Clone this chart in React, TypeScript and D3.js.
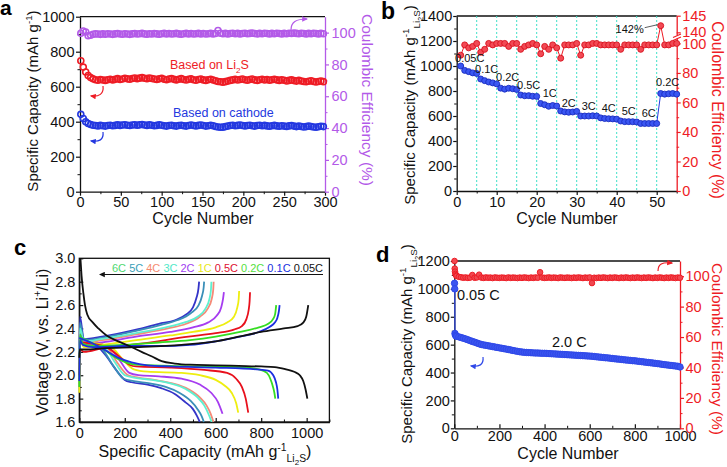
import React, { useEffect, useRef } from "react";
import * as d3 from "d3";

const FONT = "'Liberation Sans', Arial, Helvetica, sans-serif";

// ---------------- Panel a data (every 3rd cycle starting at 1) ----------------
const aCycleStep = 3;
const aLi2S = [748, 712, 684, 664, 652, 645, 640, 637, 641, 638,
  636, 640, 643, 639, 642, 646, 641, 644, 648, 645,
  643, 647, 650, 646, 649, 652, 648, 646, 650, 647,
  644, 641, 645, 648, 643, 640, 644, 647, 642, 639,
  643, 646, 641, 638, 642, 645, 640, 637, 641, 644,
  639, 636, 640, 643, 638, 634, 630, 628, 626, 629,
  632, 636, 639, 642, 638, 641, 644, 640, 637, 641,
  644, 639, 636, 640, 643, 638, 641, 637, 640, 643,
  639, 636, 640, 637, 633, 636, 639, 635, 632, 636,
  633, 630, 628, 631, 634, 630, 627, 630, 633, 629];
const aCathode = [442, 418, 400, 390, 384, 380, 378, 376, 379, 377,
  375, 378, 380, 377, 379, 382, 379, 381, 383, 380,
  378, 381, 383, 380, 382, 384, 381, 379, 382, 380,
  377, 379, 382, 380, 377, 375, 378, 380, 377, 375,
  378, 380, 377, 375, 378, 381, 378, 376, 379, 381,
  378, 375, 377, 380, 377, 373, 370, 368, 369, 372,
  375, 378, 380, 377, 379, 381, 378, 376, 378, 380,
  377, 375, 378, 380, 377, 379, 376, 374, 377, 379,
  376, 374, 377, 375, 373, 376, 378, 375, 372, 375,
  373, 370, 372, 375, 373, 370, 368, 371, 374, 372];
const aCE = [99.6, 101.0, 100.4, 98.0, 98.3, 99.0, 99.2, 99.1, 98.9, 99.2,
  99.0, 99.3, 99.1, 98.9, 99.2, 99.4, 99.1, 99.0, 99.3, 99.1,
  98.9, 99.2, 99.4, 99.1, 99.3, 99.5, 99.2, 99.0, 99.3, 99.1,
  99.4, 99.2, 99.0, 99.3, 99.5, 99.2, 99.4, 99.1, 99.3, 99.5,
  99.2, 99.0, 99.3, 99.5, 99.2, 99.4, 99.1, 99.3, 99.5, 99.2,
  99.4, 99.1, 99.3, 99.5, 99.2, 99.4, 101.3, 99.6, 99.3, 99.5,
  99.2, 99.4, 99.6, 99.3, 99.5, 99.2, 99.4, 99.6, 99.3, 99.5,
  99.7, 99.4, 99.2, 99.5, 99.3, 99.6, 99.4, 99.2, 99.5, 99.3,
  99.6, 99.4, 99.2, 99.5, 99.3, 99.6, 99.4, 99.7, 99.5, 99.3,
  99.6, 99.4, 99.2, 99.5, 99.3, 99.6, 99.4, 99.2, 99.5, 99.3];
const aXTicks = [0, 50, 100, 150, 200, 250, 300];
const aYTicks = [0, 200, 400, 600, 800, 1000];
const aCETicks = [0, 20, 40, 60, 80, 100];

// ---------------- Panel b data (cycles 1..55) ----------------
const bCapacity = [1000, 965, 955, 945, 940, 896, 883, 872, 865, 857,
  823, 815, 822, 818, 812, 768, 762, 763, 758, 757,
  700, 690, 678, 684, 680, 640, 633, 630, 632, 637,
  600, 600, 600, 602, 600, 585, 580, 578, 577, 575,
  560, 555, 555, 554, 552, 540, 540, 540, 540, 540,
  780, 775, 778, 780, 775];
const bCE = [92, 99, 97, 98, 100, 94, 96, 100, 99, 100,
  100, 100, 98, 100, 100, 96, 98, 99, 100, 99,
  93, 98, 96, 99, 97, 90, 99, 99, 99, 100,
  92, 99, 99, 100, 100, 99, 99, 99, 99, 99,
  96, 99, 99, 99, 99, 96, 99, 99, 99, 99,
  142, 99, 99, 100, 100];
const bRateLabels = ["0.05C", "0.1C", "0.2C", "0.5C", "1C", "2C", "3C", "4C", "5C", "6C", "0.2C"];
const bRateStartCycle = [1, 6, 11, 16, 21, 26, 31, 36, 41, 46, 51];
const bRateLabelOffset = [[9, -8], [6, -10], [7, -11], [8, -10], [9, -10], [8, -8], [8, -10], [8, -10], [8, -10], [8, -10], [7, -11]];
const bDivider = [5, 10, 15, 20, 25, 30, 35, 40, 45, 50];
const bXTicks = [0, 10, 20, 30, 40, 50];
const bYTicks = [0, 200, 400, 600, 800, 1000, 1200, 1400];
const bCETicks = [0, 20, 40, 60, 80, 100, 140, 145];

// ---------------- Panel c data: [capacity, voltage] ----------------
const cRates = ["0.05C", "0.1C", "0.2C", "0.5C", "1C", "2C", "3C", "4C", "5C", "6C"];
const cColors = ["#111111", "#1c2fe0", "#35dd22", "#e8101c", "#eeee10", "#a63cf0", "#5ef0d0", "#f58a78", "#3a8fb8", "#3434c8"];
const cLegendColors = ["#111111", "#2030e0", "#55e040", "#dd1030", "#e8e820", "#a040f0", "#50e8c8", "#f58a70", "#3aa0b8", "#50d870"];
const cCharge = [
  [[0, 2.15], [2, 2.22], [30, 2.22], [100, 2.23], [250, 2.24], [450, 2.26], [600, 2.29], [700, 2.33], [800, 2.37], [900, 2.40], [960, 2.42], [985, 2.45], [998, 2.5], [1007, 2.6]],
  [[0, 1.95], [3, 2.3], [15, 2.26], [60, 2.24], [200, 2.25], [350, 2.25], [487, 2.26], [600, 2.29], [707, 2.33], [790, 2.37], [838, 2.415], [860, 2.45], [871, 2.49], [878, 2.55], [881, 2.6]],
  [[0, 1.9], [3, 2.35], [15, 2.27], [60, 2.25], [200, 2.26], [350, 2.28], [487, 2.30], [600, 2.33], [707, 2.37], [790, 2.41], [831, 2.44], [852, 2.48], [861, 2.52], [866, 2.6]],
  [[0, 2.0], [3, 2.22], [20, 2.2], [100, 2.23], [270, 2.27], [480, 2.33], [600, 2.36], [680, 2.39], [715, 2.42], [735, 2.48], [745, 2.56], [749, 2.63], [751, 2.71]],
  [[0, 1.85], [3, 2.3], [20, 2.24], [100, 2.26], [250, 2.3], [400, 2.34], [500, 2.37], [600, 2.41], [650, 2.45], [680, 2.5], [695, 2.58], [701, 2.65], [703, 2.72]],
  [[0, 1.9], [3, 2.35], [20, 2.26], [100, 2.28], [250, 2.33], [400, 2.37], [500, 2.41], [565, 2.45], [605, 2.51], [624, 2.58], [632, 2.65], [636, 2.71]],
  [[0, 2.0], [3, 2.4], [20, 2.29], [100, 2.31], [250, 2.36], [380, 2.41], [460, 2.45], [520, 2.5], [555, 2.57], [572, 2.65], [579, 2.73], [581, 2.8]],
  [[0, 2.0], [3, 2.38], [20, 2.28], [100, 2.3], [250, 2.35], [390, 2.4], [470, 2.44], [530, 2.5], [565, 2.57], [582, 2.65], [589, 2.73], [591, 2.8]],
  [[0, 2.1], [3, 2.45], [20, 2.3], [100, 2.32], [250, 2.38], [360, 2.43], [430, 2.47], [490, 2.53], [525, 2.6], [540, 2.68], [547, 2.75], [549, 2.8]],
  [[0, 2.1], [3, 2.5], [20, 2.31], [100, 2.33], [250, 2.39], [350, 2.44], [421, 2.47], [470, 2.52], [500, 2.58], [515, 2.66], [524, 2.74], [527, 2.8]],
];
const cDischarge = [
  [[5, 3.0], [10, 2.85], [18, 2.7], [25, 2.6], [35, 2.52], [60, 2.45], [84, 2.40], [120, 2.34], [171, 2.29], [220, 2.25], [274, 2.20], [320, 2.16], [362, 2.12], [420, 2.10], [487, 2.09], [600, 2.085], [700, 2.08], [800, 2.075], [860, 2.07], [910, 2.05], [945, 2.03], [970, 2.0], [985, 1.95], [995, 1.88], [1003, 1.8]],
  [[0, 2.32], [50, 2.28], [100, 2.23], [170, 2.15], [230, 2.11], [300, 2.085], [400, 2.075], [600, 2.065], [780, 2.05], [830, 2.04], [853, 2.0], [865, 1.94], [871, 1.88], [875, 1.8]],
  [[0, 2.33], [50, 2.28], [100, 2.23], [170, 2.14], [250, 2.09], [400, 2.08], [700, 2.07], [790, 2.05], [825, 2.02], [840, 1.97], [852, 1.9], [858, 1.85], [862, 1.8]],
  [[0, 2.28], [60, 2.27], [120, 2.24], [170, 2.17], [220, 2.09], [250, 2.075], [400, 2.065], [550, 2.045], [650, 2.02], [690, 1.97], [715, 1.9], [732, 1.8], [743, 1.68]],
  [[0, 2.28], [80, 2.27], [140, 2.24], [190, 2.14], [240, 2.05], [300, 2.03], [450, 2.02], [530, 2.0], [600, 1.96], [640, 1.91], [670, 1.85], [690, 1.76], [699, 1.68]],
  [[0, 2.29], [80, 2.27], [130, 2.24], [180, 2.12], [220, 2.02], [260, 2.0], [350, 1.99], [450, 1.97], [530, 1.92], [580, 1.85], [610, 1.77], [630, 1.67]],
  [[0, 2.3], [80, 2.27], [120, 2.22], [160, 2.1], [200, 2.0], [240, 1.98], [320, 1.96], [400, 1.93], [470, 1.88], [520, 1.81], [550, 1.74], [570, 1.66], [582, 1.6]],
  [[0, 2.3], [80, 2.28], [130, 2.22], [170, 2.1], [215, 2.0], [260, 1.98], [330, 1.96], [410, 1.93], [480, 1.88], [530, 1.81], [560, 1.74], [578, 1.67], [590, 1.6]],
  [[0, 2.32], [70, 2.28], [110, 2.2], [150, 2.08], [195, 1.97], [240, 1.95], [310, 1.93], [380, 1.9], [440, 1.85], [490, 1.78], [520, 1.71], [538, 1.65], [548, 1.6]],
  [[0, 2.32], [30, 2.3], [80, 2.25], [120, 2.16], [160, 2.05], [200, 1.96], [230, 1.94], [300, 1.92], [360, 1.89], [420, 1.84], [466, 1.77], [500, 1.71], [518, 1.65], [530, 1.6]],
];
const cXTicks = [0, 200, 400, 600, 800, 1000];
const cYTicks = [1.6, 1.8, 2.0, 2.2, 2.4, 2.6, 2.8, 3.0];

// ---------------- Panel d data ----------------
const dEarlyCycles = [1, 2, 3, 5, 8];
const dLaterCycleStep = 10;
const dCapacity = [1040, 1000, 680, 668, 662,
  660, 656, 651, 646, 641, 635, 629, 623, 618, 612,
  606, 601, 598, 595, 592, 589, 586, 583, 580, 577,
  574, 571, 568, 565, 562, 558, 555, 552, 549, 547,
  545, 544, 543, 542, 541, 540, 540, 539, 538, 538,
  537, 536, 535, 534, 533, 532, 531, 530, 529, 528,
  527, 526, 525, 524, 523, 522, 521, 520, 519, 518,
  517, 515, 513, 511, 510, 508, 506, 505, 503, 501,
  499, 497, 496, 494, 492, 490, 489, 487, 485, 484,
  482, 480, 478, 476, 474, 472, 470, 468, 466, 464,
  462, 459, 457, 455, 453, 451, 449, 447, 445, 440];
const dCE = [110, 105, 103, 101.5, 100.6,
  100.2, 99.6, 99.3, 99.0, 99.2, 98.9, 99.1, 100.8, 99.0, 99.2,
  101.0, 99.1, 98.9, 99.2, 99.0, 99.1, 98.8, 99.2, 99.0, 98.9,
  99.1, 99.0, 98.8, 99.2, 98.9, 99.1, 99.0, 98.8, 99.1, 98.9,
  99.2, 99.0, 98.8, 99.1, 98.9, 99.2, 99.0, 102.6, 99.1, 98.9,
  99.0, 99.2, 98.9, 99.1, 99.0, 98.8, 99.2, 99.0, 98.9, 99.1,
  99.0, 98.8, 99.1, 98.9, 99.2, 99.0, 98.8, 99.1, 98.9, 99.2,
  95.5, 99.0, 98.8, 99.1, 98.9, 99.2, 99.0, 98.8, 99.1, 98.9,
  99.2, 99.0, 98.8, 99.1, 98.9, 99.2, 99.0, 98.8, 99.1, 98.9,
  99.2, 99.0, 98.8, 99.1, 98.9, 99.2, 99.0, 98.8, 99.1, 98.9,
  99.2, 99.0, 98.8, 99.1, 98.9, 99.2, 99.0, 98.8, 99.1, 99.0];
const dXTicks = [0, 200, 400, 600, 800, 1000];
const dYTicks = [0, 200, 400, 600, 800, 1000, 1200];
const dCETicks = [0, 20, 40, 60, 80, 100];

// colours
const RED = "#ee1c25";
const BLUE = "#2438e0";
const PURPLE = "#b35ae8";

type Part = [string, "n" | "sup" | "sub" | "subsub"];
const fmtInt = d3.format("d");

export default function App() {
  const ref = useRef<SVGSVGElement>(null);

  useEffect(() => {
    const svg = d3.select(ref.current);
    svg.selectAll("*").remove();
    const defs = svg.append("defs");
    const marker = (id: string, color: string) => {
      defs.append("marker").attr("id", id).attr("viewBox", "0 0 10 10")
        .attr("refX", 8).attr("refY", 5).attr("markerWidth", 5).attr("markerHeight", 5)
        .attr("orient", "auto")
        .append("path").attr("d", "M0,0.5 L10,5 L0,9.5 Z").attr("fill", color);
    };
    marker("arR", RED); marker("arB", BLUE); marker("arP", PURPLE); marker("arK", "#111"); marker("arD", "#2f48e8");

    const addAxis = (gen: any, tx: number, ty: number, color: string, fs = 14.5) => {
      const s = svg.append("g").attr("transform", `translate(${tx},${ty})`).call(gen);
      s.attr("font-family", FONT).attr("font-size", fs);
      s.select(".domain").attr("stroke", color).attr("stroke-width", 1.3);
      s.selectAll(".tick line").attr("stroke", color).attr("stroke-width", 1.2);
      s.selectAll(".tick text").attr("fill", color);
      return s;
    };
    const addMinor = (gen: any, tx: number, ty: number, color: string) => {
      const s = svg.append("g").attr("transform", `translate(${tx},${ty})`).call(gen.tickFormat(() => ""));
      s.select(".domain").remove();
      s.selectAll(".tick line").attr("stroke", color).attr("stroke-width", 1);
      return s;
    };
    const richText = (x: number, y: number, angle: number, color: string, fs: number, parts: Part[], anchor = "middle", center = true) => {
      const t = svg.append("text")
        .attr("transform", `translate(${x},${y}) rotate(${angle})`)
        .attr("text-anchor", anchor).attr("font-family", FONT).attr("font-size", fs)
        .attr("fill", color).attr("y", center ? fs * 0.35 : 0);
      let cur = 0;
      parts.forEach(([str, k]) => {
        const target = k === "sup" ? -0.4 * fs : k === "sub" ? 0.3 * fs : k === "subsub" ? 0.5 * fs : 0;
        const size = k === "n" ? fs : k === "subsub" ? fs * 0.5 : fs * 0.65;
        t.append("tspan").attr("dy", target - cur).attr("font-size", size).text(str);
        cur = target;
      });
      return t;
    };
    const hline = (x1: number, x2: number, y: number) =>
      svg.append("line").attr("x1", x1).attr("x2", x2).attr("y1", y).attr("y2", y).attr("stroke", "#111").attr("stroke-width", 1.3);

    // ================= Panel a =================
    {
      const x = d3.scaleLinear().domain([0, 300]).range([80, 325]);
      const y = d3.scaleLinear().domain([0, 1000]).range([191.7, 16.7]);
      const yr = d3.scaleLinear().domain([0, 110]).range([191.7, 16.7]);
      hline(80, 325, 16.7);
      addMinor(d3.axisBottom(x).tickValues([25, 75, 125, 175, 225, 275]).tickSize(2.5), 0, 191.7, "#111");
      addMinor(d3.axisLeft(y).tickValues([100, 300, 500, 700, 900]).tickSize(2.5), 80, 0, "#111");
      addMinor(d3.axisRight(yr).tickValues([10, 30, 50, 70, 90]).tickSize(2.5), 325, 0, PURPLE);
      addAxis(d3.axisBottom(x).tickValues(aXTicks).tickFormat(fmtInt).tickSize(4).tickPadding(1.5).tickSizeOuter(0), 0, 191.7, "#111");
      addAxis(d3.axisLeft(y).tickValues(aYTicks).tickFormat(fmtInt).tickSize(4).tickPadding(1.5).tickSizeOuter(0), 80, 0, "#111");
      addAxis(d3.axisRight(yr).tickValues(aCETicks).tickFormat(fmtInt).tickSize(4).tickPadding(2.5).tickSizeOuter(0), 325, 0, PURPLE);
      const series: [number[], any, string][] = [[aCE, yr, PURPLE], [aLi2S, y, RED], [aCathode, y, BLUE]];
      series.forEach(([vals, sc, col]) => {
        svg.append("g").selectAll("circle").data(vals).enter().append("circle")
          .attr("cx", (_d, i) => x(1 + i * aCycleStep)).attr("cy", (d) => sc(d)).attr("r", 3)
          .attr("fill", "none").attr("stroke", col).attr("stroke-width", 1.6);
      });
      richText(170, 65, 0, RED, 12.5, [["Based on Li", "n"], ["2", "sub"], ["S", "n"]], "start");
      richText(173, 113, 0, BLUE, 12.5, [["Based on cathode", "n"]], "start");
      svg.append("path").attr("d", "M103,86 C104,94 99,97 91,96").attr("fill", "none").attr("stroke", RED).attr("stroke-width", 1.2).attr("marker-end", "url(#arR)");
      svg.append("path").attr("d", "M103,132 C104,140 99,142 91,141").attr("fill", "none").attr("stroke", BLUE).attr("stroke-width", 1.2).attr("marker-end", "url(#arB)");
      svg.append("path").attr("d", "M291,30 C291,22 296,19 307,19").attr("fill", "none").attr("stroke", PURPLE).attr("stroke-width", 1.2).attr("marker-end", "url(#arP)");
      richText(33, 101, -90, "#111", 15, [["Specific Capacity (mAh g", "n"], ["-1", "sup"], [")", "n"]]);
      richText(367, 100, 90, PURPLE, 15.5, [["Coulombic Efficiency (%)", "n"]]);
      richText(203, 218, 0, "#111", 16, [["Cycle Number", "n"]]);
      svg.append("text").attr("x", 0).attr("y", 15).attr("font-family", FONT).attr("font-size", 21).attr("font-weight", "bold").text("a");
    }

    // ================= Panel b =================
    {
      const x = d3.scaleLinear().domain([0, 55]).range([456.7, 676.7]);
      const y = d3.scaleLinear().domain([0, 1400]).range([191, 16]);
      const yr = d3.scaleLinear().domain([0, 103, 138, 145]).range([191, 39, 39, 15.7]);
      hline(456.7, 676.7, 16);
      svg.append("g").selectAll("line").data(bDivider).enter().append("line")
        .attr("x1", (d) => x(d)).attr("x2", (d) => x(d)).attr("y1", 16).attr("y2", 191)
        .attr("stroke", "#3fe0c8").attr("stroke-width", 1).attr("stroke-dasharray", "2,2");
      addMinor(d3.axisBottom(x).tickValues([5, 15, 25, 35, 45, 55]).tickSize(2.5), 0, 191, "#111");
      addMinor(d3.axisLeft(y).tickValues([100, 300, 500, 700, 900, 1100, 1300]).tickSize(2.5), 456.7, 0, "#111");
      addMinor(d3.axisRight(yr).tickValues([10, 30, 50, 70, 90]).tickSize(2.5), 676.7, 0, RED);
      addAxis(d3.axisBottom(x).tickValues(bXTicks).tickFormat(fmtInt).tickSize(4).tickPadding(2).tickSizeOuter(0), 0, 191, "#111");
      addAxis(d3.axisLeft(y).tickValues(bYTicks).tickFormat(fmtInt).tickSize(3.5).tickPadding(1).tickSizeOuter(0), 456.7, 0, "#111");
      addAxis(d3.axisRight(yr).tickValues(bCETicks).tickFormat(fmtInt).tickSize(4).tickPadding(1.5).tickSizeOuter(0), 676.7, 0, RED);
      // axis break
      svg.append("rect").attr("x", 674).attr("y", 35.5).attr("width", 6).attr("height", 3).attr("fill", "#fff");
      svg.append("path").attr("d", "M673,37.5 L681,34 M673,40.5 L681,37").attr("stroke", RED).attr("stroke-width", 1.1);
      const cyc = (i: number) => i + 1;
      const lineCap = d3.line<number>().x((_d, i) => x(cyc(i))).y((d) => y(d));
      const lineCE = d3.line<number>().x((_d, i) => x(cyc(i))).y((d) => yr(d));
      svg.append("path").attr("d", lineCE(bCE)).attr("fill", "none").attr("stroke", RED).attr("stroke-width", 1);
      svg.append("path").attr("d", lineCap(bCapacity)).attr("fill", "none").attr("stroke", BLUE).attr("stroke-width", 1);
      svg.append("g").selectAll("circle").data(bCE).enter().append("circle")
        .attr("cx", (_d, i) => x(cyc(i))).attr("cy", (d) => yr(d)).attr("r", 3)
        .attr("fill", "#f24a55").attr("stroke", "#d8101c").attr("stroke-width", 0.9);
      svg.append("g").selectAll("circle").data(bCapacity).enter().append("circle")
        .attr("cx", (_d, i) => x(cyc(i))).attr("cy", (d) => y(d)).attr("r", 3)
        .attr("fill", "#3a56f2").attr("stroke", "#1a2cc0").attr("stroke-width", 0.9);
      bRateLabels.forEach((lab, i) => {
        const c = bRateStartCycle[i];
        const [dx, dy] = bRateLabelOffset[i];
        svg.append("text").attr("x", x(c) + dx).attr("y", y(bCapacity[c - 1]) + dy).attr("dy", "0.35em")
          .attr("text-anchor", "middle").attr("font-family", FONT).attr("font-size", 11).attr("fill", "#111").text(lab);
      });
      const peakIdx = bCE.indexOf(d3.max(bCE) as number);
      const px = x(cyc(peakIdx)), py = yr(bCE[peakIdx]);
      svg.append("text").attr("x", px - 17).attr("y", py + 3).attr("dy", "0.35em").attr("text-anchor", "end")
        .attr("font-family", FONT).attr("font-size", 11).attr("fill", "#111").text("142%");
      svg.append("line").attr("x1", px - 16).attr("y1", py + 2).attr("x2", px - 3).attr("y2", py - 1).attr("stroke", "#333").attr("stroke-width", 0.8);
      richText(410, 105, -90, "#111", 15, [["Specific Capacity (mAh g", "n"], ["-1", "sup"], ["Li", "sub"], ["2", "subsub"], ["S", "sub"], [")", "n"]]);
      richText(718, 110, 90, RED, 16, [["Coulombic Efficiency (%)", "n"]]);
      richText(567, 218, 0, "#111", 16, [["Cycle Number", "n"]]);
      svg.append("text").attr("x", 381).attr("y", 19).attr("font-family", FONT).attr("font-size", 23).attr("font-weight", "bold").text("b");
    }

    // ================= Panel c =================
    {
      const x = d3.scaleLinear().domain([0, 1100]).range([79.3, 329.4]);
      const y = d3.scaleLinear().domain([1.6, 3.0]).range([422, 258.3]);
      svg.append("rect").attr("x", 79.3).attr("y", 258.3).attr("width", 329.4 - 79.3).attr("height", 422 - 258.3)
        .attr("fill", "none").attr("stroke", "#111").attr("stroke-width", 1.3);
      addMinor(d3.axisLeft(y).tickValues([1.7, 1.9, 2.1, 2.3, 2.5, 2.7, 2.9]).tickSize(-2.5), 79.3, 0, "#111");
      addMinor(d3.axisBottom(x).tickValues([100, 300, 500, 700, 900, 1100]).tickSize(-2.5), 0, 422, "#111");
      addAxis(d3.axisLeft(y).tickValues(cYTicks).tickFormat(d3.format(".1f")).tickSize(-4).tickPadding(4).tickSizeOuter(0), 79.3, 0, "#111");
      addAxis(d3.axisBottom(x).tickValues(cXTicks).tickFormat(fmtInt).tickSize(-4).tickPadding(6).tickSizeOuter(0), 0, 422, "#111");
      const line = d3.line<number[]>().x((d) => x(d[0])).y((d) => y(d[1])).curve(d3.curveMonotoneX);
      const order = [9, 8, 7, 6, 5, 4, 3, 2, 1, 0];
      order.forEach((i) => {
        svg.append("path").attr("d", line(cDischarge[i] as any)).attr("fill", "none").attr("stroke", cColors[i]).attr("stroke-width", 1.8);
        svg.append("path").attr("d", line(cCharge[i] as any)).attr("fill", "none").attr("stroke", cColors[i]).attr("stroke-width", 1.8);
      });
      const lt = svg.append("text").attr("x", 323).attr("y", 272).attr("text-anchor", "end")
        .attr("font-family", FONT).attr("font-size", 11);
      const legOrder = [9, 8, 7, 6, 5, 4, 3, 2, 1, 0];
      legOrder.forEach((i, k) => {
        lt.append("tspan").attr("fill", cLegendColors[i]).text(cRates[i] + (k < legOrder.length - 1 ? " " : ""));
      });
      svg.append("line").attr("x1", 323).attr("x2", 100).attr("y1", 274.5).attr("y2", 274.5)
        .attr("stroke", "#111").attr("stroke-width", 1.2).attr("marker-end", "url(#arK)");
      richText(42, 342, -90, "#111", 16, [["Voltage (V, vs. Li", "n"], ["+", "sup"], ["/Li)", "n"]]);
      richText(205, 451.5, 0, "#111", 16, [["Specific Capacity (mAh g", "n"], ["-1", "sup"], ["Li", "sub"], ["2", "subsub"], ["S", "sub"], [")", "n"]]);
      svg.append("text").attr("x", 14).attr("y", 255).attr("font-family", FONT).attr("font-size", 22).attr("font-weight", "bold").text("c");
    }

    // ================= Panel d =================
    {
      const x = d3.scaleLinear().domain([0, 1000]).range([454.3, 680]);
      const y = d3.scaleLinear().domain([0, 1200]).range([428.3, 261]);
      const yr = d3.scaleLinear().domain([0, 110]).range([428.3, 261]);
      hline(454.3, 680, 261);
      addMinor(d3.axisBottom(x).tickValues([100, 300, 500, 700, 900]).tickSize(-2.5), 0, 428.3, "#111");
      addMinor(d3.axisLeft(y).tickValues([100, 300, 500, 700, 900, 1100]).tickSize(2.5), 454.3, 0, "#111");
      addMinor(d3.axisRight(yr).tickValues([10, 30, 50, 70, 90]).tickSize(2.5), 680, 0, RED);
      addAxis(d3.axisBottom(x).tickValues(dXTicks).tickFormat(fmtInt).tickSize(-4).tickPadding(2).tickSizeOuter(0), 0, 428.3, "#111");
      addAxis(d3.axisLeft(y).tickValues(dYTicks).tickFormat(fmtInt).tickSize(3.5).tickPadding(1).tickSizeOuter(0), 454.3, 0, "#111");
      addAxis(d3.axisRight(yr).tickValues(dCETicks).tickFormat(fmtInt).tickSize(4).tickPadding(1.5).tickSizeOuter(0), 680, 0, RED);
      const cycleAt = (i: number) => (i < dEarlyCycles.length ? dEarlyCycles[i] : (i - dEarlyCycles.length + 1) * dLaterCycleStep);
      const lineCap = d3.line<number>().x((_d, i) => x(cycleAt(i))).y((d) => y(d));
      svg.append("path").attr("d", lineCap(dCapacity)).attr("fill", "none").attr("stroke", "#2f48e8").attr("stroke-width", 1.2);
      svg.append("g").selectAll("circle").data(dCE).enter().append("circle")
        .attr("cx", (_d, i) => x(cycleAt(i))).attr("cy", (d) => yr(d)).attr("r", 2.8)
        .attr("fill", "#f04850").attr("stroke", RED).attr("stroke-width", 1);
      svg.append("g").selectAll("circle").data(dCapacity).enter().append("circle")
        .attr("cx", (_d, i) => x(cycleAt(i))).attr("cy", (d) => y(d)).attr("r", 3.2)
        .attr("fill", "#3a55f0").attr("stroke", "#2f48e8").attr("stroke-width", 1);
      richText(457, 295, 0, "#111", 14.5, [["0.05 C", "n"]], "start");
      richText(552, 342, 0, "#111", 14.5, [["2.0 C", "n"]], "start");
      svg.append("path").attr("d", "M483,357 C484,365 479,367 471,366").attr("fill", "none").attr("stroke", "#2f48e8").attr("stroke-width", 1.2).attr("marker-end", "url(#arD)");
      svg.append("path").attr("d", "M658,271 C658,264 662,262 672,263").attr("fill", "none").attr("stroke", RED).attr("stroke-width", 1.2).attr("marker-end", "url(#arR)");
      richText(407, 344, -90, "#111", 15, [["Specific Capacity (mAh g", "n"], ["-1", "sup"], ["Li", "sub"], ["2", "subsub"], ["S", "sub"], [")", "n"]]);
      richText(717, 349, 90, RED, 15.5, [["Coulombic Efficiency (%)", "n"]]);
      richText(568, 453, 0, "#111", 16, [["Cycle Number", "n"]]);
      svg.append("text").attr("x", 376).attr("y", 262).attr("font-family", FONT).attr("font-size", 22).attr("font-weight", "bold").text("d");
    }
  }, []);

  return (
    <svg ref={ref} width={727} height={467}
      style={{ position: "absolute", left: 0, top: 0, background: "#fff" }} />
  );
}
